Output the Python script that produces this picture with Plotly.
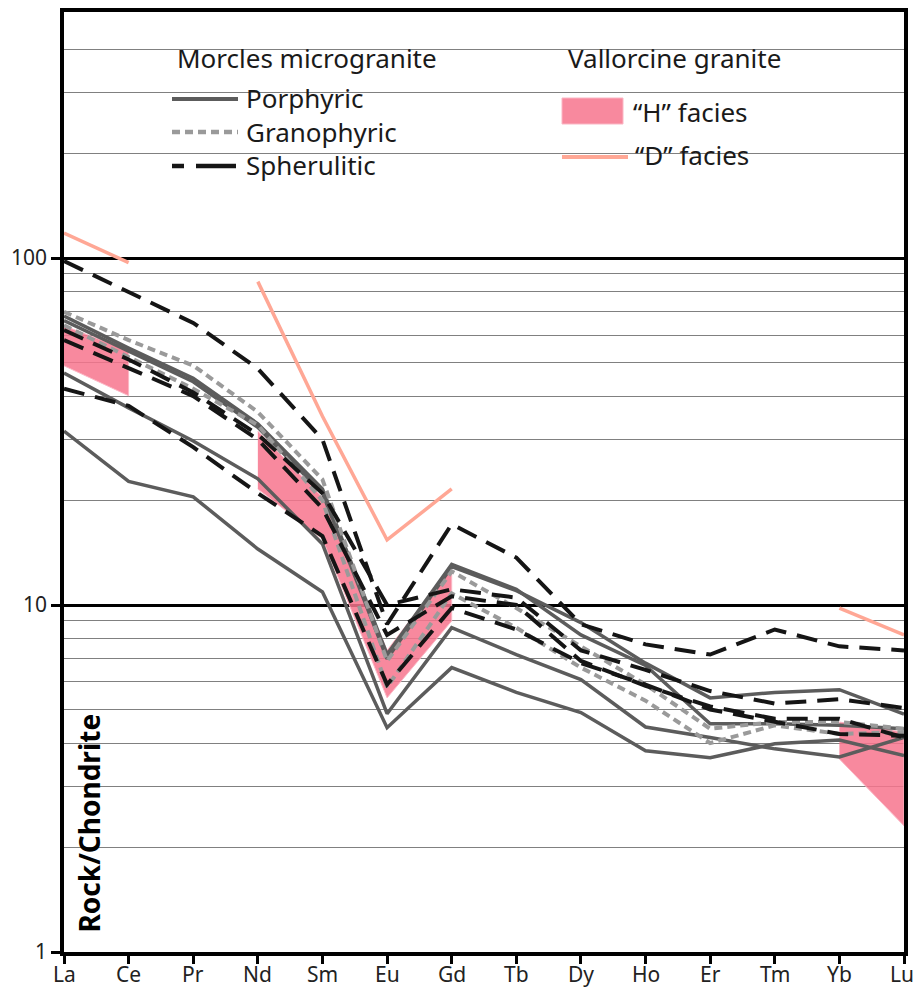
import plotly.graph_objects as go

# Chondrite-normalised REE patterns
elements = ["La", "Ce", "Pr", "Nd", "Sm", "Eu", "Gd", "Tb", "Dy", "Ho", "Er", "Tm", "Yb", "Lu"]

# Morcles microgranite - porphyric facies
porphyric = [
    [31.7, 22.7, 20.5, 14.5, 10.9, 4.43, 6.6, 5.6, 4.9, 3.8, 3.63, 3.98, 4.08, 3.68],
    [46.6, 37.0, 29.7, 23.1, 15.0, 4.86, 8.6, 7.2, 6.1, 4.45, 4.15, 3.85, 3.65, 4.15],
    [68.0, 55.0, 45.0, 33.3, 21.6, 7.2, 13.1, 11.1, 8.2, 6.7, 4.55, 4.55, 4.5, 4.4],
    [66.0, 54.0, 44.0, 32.5, 21.0, 7.0, 12.9, 11.0, 8.9, 6.8, 5.4, 5.6, 5.7, 4.85],
]

# Morcles microgranite - granophyric facies
granophyric = [
    [70.0, 58.0, 49.0, 36.0, 23.0, 6.9, 12.5, 9.8, 7.6, 5.9, 4.4, 4.6, 4.6, 4.4],
    [64.0, 52.0, 42.0, 33.0, 20.0, 5.8, 10.8, 8.6, 6.6, 5.3, 4.0, 4.5, 4.25, 4.3],
]

# Morcles microgranite - spherulitic facies
spherulitic = [
    [98.0, 80.0, 65.0, 48.0, 30.0, 8.8, 17.1, 13.7, 8.8, 7.7, 7.2, 8.5, 7.6, 7.4],
    [62.0, 51.0, 41.0, 31.0, 21.0, 10.0, 11.1, 10.5, 7.4, 6.5, 5.65, 5.2, 5.35, 5.05],
    [58.0, 48.0, 40.0, 30.0, 19.0, 8.2, 10.6, 10.0, 6.9, 5.85, 5.1, 4.7, 4.7, 4.15],
    [42.0, 37.5, 28.5, 21.0, 15.8, 5.9, 9.8, 8.5, 6.8, 5.9, 5.0, 4.6, 4.25, 4.2],
]

# Vallorcine granite - "H" facies envelope (upper / lower limits)
h_upper = [63.8, 54.1, None, 31.7, 20.4, 7.4, 13.0, None, None, None, None, None, 4.6, 4.3]
h_lower = [48.9, 40.1, None, 21.6, 15.5, 5.4, 9.0, None, None, None, None, None, 3.6, 2.31]

# Vallorcine granite - "D" facies
d_facies = [118.0, 97.0, None, 85.5, 35.0, 15.4, 21.6, None, None, None, None, None, 9.8, 8.2]

y_major = [1, 10, 100]
y_minor = [m * 10 ** e for e in range(3) for m in range(2, 10) if m * 10 ** e < 500]

FONT = "Noto Sans"
C_POR = "#5c5c5c"
C_GRA = "#9a9a9a"
C_SPH = "#151515"
C_H = "rgba(247,116,141,0.85)"
C_H_EDGE = "#fbb6c4"
C_D = "#ffa795"
DASH_GRA = "8px,5px"
DASH_SPH = "21px,11px"

xs = list(range(len(elements)))
fig = go.Figure()

# "H" facies envelope: one filled polygon per contiguous run of values
run = []
runs = []
for i, v in enumerate(h_upper):
    if v is None:
        if run:
            runs.append(run)
        run = []
    else:
        run.append(i)
if run:
    runs.append(run)
for r in runs:
    px = r + r[::-1]
    py = [h_upper[i] for i in r] + [h_lower[i] for i in r[::-1]]
    fig.add_trace(go.Scatter(x=px, y=py, mode="lines", fill="toself",
                             fillcolor=C_H, line=dict(color=C_H_EDGE, width=1),
                             hoverinfo="skip", showlegend=False))

fig.add_trace(go.Scatter(x=xs, y=d_facies, mode="lines",
                         line=dict(color=C_D, width=3.5), showlegend=False))

for s in porphyric:
    fig.add_trace(go.Scatter(x=xs, y=s, mode="lines",
                             line=dict(color=C_POR, width=3.5), showlegend=False))
for s in granophyric:
    fig.add_trace(go.Scatter(x=xs, y=s, mode="lines",
                             line=dict(color=C_GRA, width=4, dash=DASH_GRA), showlegend=False))
for s in spherulitic:
    fig.add_trace(go.Scatter(x=xs, y=s, mode="lines",
                             line=dict(color=C_SPH, width=4, dash=DASH_SPH), showlegend=False))

# Legend panel, drawn by hand (white box hides the upper gridlines)
W, H = 917, 992
ML, MR, MT, MB = 64, 13, 12, 40
PW, PH = W - ML - MR, H - MT - MB


def px_x(p):
    return (p - ML) / PW


def px_y(p):
    return (H - MB - p) / PH


shapes = [
    dict(type="rect", xref="paper", yref="paper", layer="between",
         x0=px_x(148), x1=px_x(819), y0=px_y(205), y1=px_y(22),
         fillcolor="white", line=dict(width=0)),
    dict(type="line", xref="paper", yref="paper", x0=px_x(172), x1=px_x(238),
         y0=px_y(99), y1=px_y(99), line=dict(color=C_POR, width=4)),
    dict(type="line", xref="paper", yref="paper", x0=px_x(172), x1=px_x(238),
         y0=px_y(132), y1=px_y(132), line=dict(color=C_GRA, width=4.5, dash=DASH_GRA)),
    dict(type="line", xref="paper", yref="paper", x0=px_x(172), x1=px_x(238),
         y0=px_y(166), y1=px_y(166), line=dict(color=C_SPH, width=4.5, dash="12px,12px,40px")),
    dict(type="rect", xref="paper", yref="paper", x0=px_x(562), x1=px_x(623),
         y0=px_y(124), y1=px_y(98), fillcolor=C_H, line=dict(color=C_H_EDGE, width=1)),
    dict(type="line", xref="paper", yref="paper", x0=px_x(562), x1=px_x(628),
         y0=px_y(157), y1=px_y(157), line=dict(color=C_D, width=4)),
]

annotations = [
    dict(text="Morcles microgranite", x=px_x(307), y=px_y(58), xanchor="center", yanchor="middle"),
    dict(text="Porphyric", x=px_x(244), y=px_y(98), xanchor="left", yanchor="middle"),
    dict(text="Granophyric", x=px_x(244), y=px_y(132), xanchor="left", yanchor="middle"),
    dict(text="Spherulitic", x=px_x(244), y=px_y(165), xanchor="left", yanchor="middle"),
    dict(text="Vallorcine granite", x=px_x(674), y=px_y(58), xanchor="center", yanchor="middle"),
    dict(text="\u201cH\u201d facies", x=px_x(631), y=px_y(112), xanchor="left", yanchor="middle"),
    dict(text="\u201cD\u201d facies", x=px_x(633), y=px_y(155), xanchor="left", yanchor="middle"),
]
for a in annotations:
    a.update(xref="paper", yref="paper", showarrow=False,
             font=dict(family=FONT, size=26, color="#1a1a1a"))

annotations.append(dict(text="<b>Rock/Chondrite</b>", xref="paper", yref="paper",
                        x=px_x(88), y=px_y(935), xanchor="center", yanchor="bottom",
                        textangle=-90, showarrow=False,
                        font=dict(family=FONT, size=28, color="#000000")))

# Element labels under the x axis (last one kept inside the page edge)
for i, el in enumerate(elements):
    last = i == len(elements) - 1
    annotations.append(dict(
        text=el, xref="paper" if last else "x", yref="paper",
        x=px_x(W - 2) if last else i, y=px_y(959),
        xanchor="right" if last else "center", yanchor="top",
        showarrow=False, borderpad=0,
        font=dict(family=FONT, size=21, color="#222222")))

fig.update_layout(
    width=W, height=H,
    margin=dict(l=ML, r=MR, t=MT, b=MB, autoexpand=False),
    paper_bgcolor="white", plot_bgcolor="white",
    shapes=shapes, annotations=annotations,
    showlegend=False,
    xaxis=dict(range=[0, len(elements) - 1], tickvals=xs, showticklabels=False,
               showgrid=False, zeroline=False, automargin=False,
               showline=True, linecolor="black", linewidth=3.5, mirror=True,
               ticks="outside", ticklen=8, tickwidth=3, tickcolor="black"),
    yaxis=dict(type="log", range=[0, 2.709], automargin=False,
               tickvals=y_major, ticktext=[str(v) for v in y_major],
               showgrid=True, gridcolor="black", gridwidth=3,
               zeroline=False,
               showline=True, linecolor="black", linewidth=3.5, mirror=True,
               ticks="outside", ticklen=9, tickwidth=3, tickcolor="black",
               tickfont=dict(family=FONT, size=21, color="#222222"),
               minor=dict(tickvals=y_minor, showgrid=True, gridcolor="#808080",
                          gridwidth=1, ticks="")),
)

fig.write_html("out.html")
